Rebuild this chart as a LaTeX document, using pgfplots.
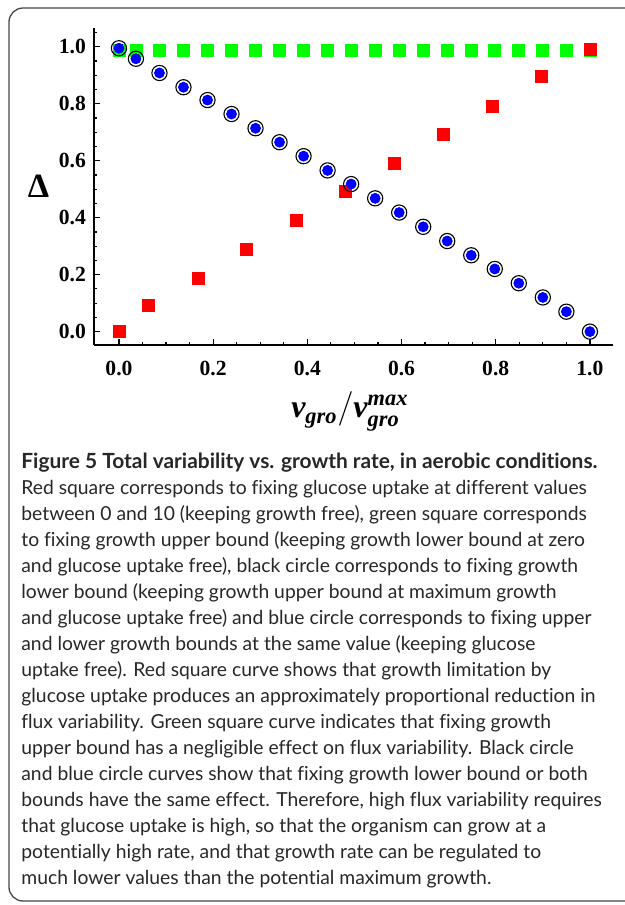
\documentclass[border=0pt]{standalone}
\usepackage{fontspec}
\setmainfont{Liberation Serif}
\newfontfamily\capfont[Ligatures={NoCommon}]{Lato}
\usepackage{amsmath}
\usepackage{pgfplots}
\pgfplotsset{compat=1.18}

\definecolor{pRed}{RGB}{255,0,0}
\definecolor{pGreen}{RGB}{0,255,0}
\definecolor{pBlue}{RGB}{0,0,255}
\definecolor{capText}{RGB}{40,38,38}

\newcommand{\bi}[1]{\text{\bfseries\itshape #1}}

\begin{document}
\begin{tikzpicture}
% frame and caption, in pixel units of the reference
\begin{scope}[x=0.5pt,y=-0.5pt]
\useasboundingbox (0,0) rectangle (625,905);
\begin{scope}
\clip (0,0) rectangle (625,905);
\draw[line width=0.65pt, draw=black!72, rounded corners=7pt] (9,8) rectangle (700,901);
\end{scope}
\begin{scope}[every node/.style={anchor=base west, inner sep=0pt, text=capText,
    font=\fontsize{9.65}{13}\capfont}]
\node[font=\fontsize{10.45}{13}\capfont\bfseries] at (21,468) {Figure 5 Total variability vs. growth rate, in aerobic conditions.};
\node at (21,494) {Red square corresponds to fixing glucose uptake at different values};
\node at (21,520) {between 0 and 10 (keeping growth free), green square corresponds};
\node at (21,546) {to fixing growth upper bound (keeping growth lower bound at zero};
\node at (21,572) {and glucose uptake free), black circle corresponds to fixing growth};
\node at (21,598) {lower bound (keeping growth upper bound at maximum growth};
\node at (21,624) {and glucose uptake free) and blue circle corresponds to fixing upper};
\node at (21,650) {and lower growth bounds at the same value (keeping glucose};
\node at (21,676) {uptake free). Red square curve shows that growth limitation by};
\node at (21,702) {glucose uptake produces an approximately proportional reduction in};
\node at (21,728) {flux variability. Green square curve indicates that fixing growth};
\node at (21,754) {upper bound has a negligible effect on flux variability. Black circle};
\node at (21,780) {and blue circle curves show that fixing growth lower bound or both};
\node at (21,806) {bounds have the same effect. Therefore, high flux variability requires};
\node at (21,832) {that glucose uptake is high, so that the organism can grow at a};
\node at (21,858) {potentially high rate, and that growth rate can be regulated to};
\node at (21,884) {much lower values than the potential maximum growth.};
\end{scope}
\end{scope}

\begin{axis}[
    at={(47pt,-172.5pt)}, anchor=south west,
    scale only axis, width=259.5pt, height=158.5pt,
    xmin=-0.053, xmax=1.049, ymin=-0.047, ymax=1.066,
    axis lines=left,
    axis line style={-, line width=0.65pt},
    xtick={0,0.2,0.4,0.6,0.8,1},
    ytick={0,0.2,0.4,0.6,0.8,1},
    minor xtick={0.05,0.1,0.15,0.25,0.3,0.35,0.45,0.5,0.55,0.65,0.7,0.75,0.85,0.9,0.95,1.05},
    minor ytick={0.05,0.1,0.15,0.25,0.3,0.35,0.45,0.5,0.55,0.65,0.7,0.75,0.85,0.9,0.95,1.05},
    tick align=inside,
    major tick length=3pt, minor tick length=1.6pt,
    every tick/.style={black, line width=0.6pt},
    /pgf/number format/assume math mode=true,
    /pgf/number format/.cd, fixed, precision=1, zerofill, /pgfplots/.cd,
    tick label style={font=\fontsize{10.8}{12}\selectfont\bfseries},
    xticklabel style={yshift=-4.5pt},
    yticklabel style={xshift=-0.5pt},
    clip=false,
]
% green squares: growth upper bound fixed
\addplot[only marks, mark=square*, mark size=3pt, color=pGreen] coordinates {
    (0,0.988)(0.036,0.988)(0.086,0.988)(0.137,0.988)(0.188,0.988)(0.239,0.988)(0.290,0.988)
    (0.341,0.988)(0.392,0.988)(0.443,0.988)(0.493,0.988)(0.544,0.988)(0.595,0.988)(0.646,0.988)
    (0.697,0.988)(0.748,0.988)(0.798,0.988)(0.849,0.988)(0.900,0.988)(0.950,0.988)(1.0,0.988)
};
% red squares: glucose uptake fixed
\addplot[only marks, mark=square*, mark size=3pt, color=pRed] coordinates {
    (0,0)(0.062,0.092)(0.168,0.188)(0.270,0.290)(0.376,0.390)(0.480,0.492)
    (0.585,0.590)(0.688,0.692)(0.792,0.792)(0.896,0.895)(1.0,0.990)
};
% black circles: growth lower bound fixed
\addplot[only marks, mark=o, mark size=3.8pt, mark options={line width=0.55pt}, color=black] coordinates {
    (0,0.995)(0.036,0.958)(0.086,0.908)(0.137,0.858)(0.188,0.813)(0.239,0.764)(0.290,0.714)
    (0.341,0.665)(0.392,0.616)(0.443,0.566)(0.493,0.518)(0.544,0.468)(0.595,0.418)(0.646,0.368)
    (0.697,0.318)(0.748,0.268)(0.798,0.220)(0.849,0.170)(0.900,0.120)(0.950,0.070)(1.0,0)
};
% blue circles: both growth bounds fixed
\addplot[only marks, mark=*, mark size=2.5pt, color=pBlue] coordinates {
    (0,0.995)(0.036,0.958)(0.086,0.908)(0.137,0.858)(0.188,0.813)(0.239,0.764)(0.290,0.714)
    (0.341,0.665)(0.392,0.616)(0.443,0.566)(0.493,0.518)(0.544,0.468)(0.595,0.418)(0.646,0.368)
    (0.697,0.318)(0.748,0.268)(0.798,0.220)(0.849,0.170)(0.900,0.120)(0.950,0.070)(1.0,0)
};
\node[anchor=center, font=\fontsize{17}{20}\selectfont\bfseries] at (axis description cs:-0.107,0.5) {Δ};
\node[anchor=base, font=\fontsize{16}{19}\selectfont] at (axis description cs:0.493,-0.230)
    {$\bi{v}_{\bi{gro}}/\bi{v}_{\bi{gro}}^{\bi{max}}$};
\end{axis}
\end{tikzpicture}
\end{document}
